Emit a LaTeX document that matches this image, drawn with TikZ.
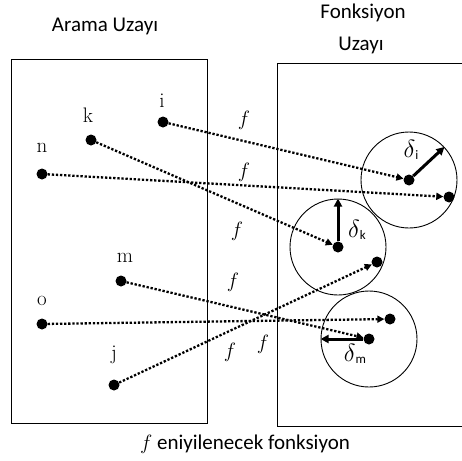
\documentclass[tikz,border=0pt]{standalone}
\usepackage{fontspec}
\newfontfamily\calfont{Carlito}
\usetikzlibrary{arrows.meta}
\begin{document}
\begin{tikzpicture}[x=1pt,y=-1pt,
 pt/.style={circle,fill=black,inner sep=0pt,minimum size=11pt},
 lbl/.style={font=\fontsize{21}{24}\selectfont,anchor=base,inner sep=0pt},
 flbl/.style={font=\fontsize{22}{24}\selectfont,inner sep=0pt},
 dlbl/.style={font=\fontsize{24}{26}\selectfont,inner sep=0pt},
 map/.style={line width=2.3pt,dash pattern=on 2.3pt off 1.8pt,-{Triangle[length=7pt,width=7pt]}},
 ttl/.style={font=\calfont\fontsize{21}{24}\selectfont,anchor=base,inner sep=0pt},
 zone/.style={circle,draw,line width=0.9pt,minimum size=96pt,inner sep=0pt},
 rad/.style={line width=3pt,-{Triangle[length=8pt,width=8pt]}},
 box/.style={draw,line width=1pt},
]
\useasboundingbox (0,0) rectangle (462,460);
% titles
\node[ttl] (t1) at (105,32) {Arama Uzayı};
\node[ttl] (t2) at (363,19) {Fonksiyon};
\node[ttl] (t3) at (361,50) {Uzayı};
\node[ttl] (t4) at (245,449) {$f$ eniyilenecek fonksiyon};
% boxes
\draw[box] (11,59) rectangle (207,423);
\draw[box] (462,63) -| (277,426) -- (462,426);
% source points
\node[pt] (i) at (163,122) {};
\node[pt] (k) at (91,140) {};
\node[pt] (n) at (42,174) {};
\node[pt] (m) at (121,281) {};
\node[pt] (o) at (42,324) {};
\node[pt] (j) at (114,385) {};
\node[lbl] (li) at (162,107) {i};
\node[lbl] (lk) at (88,122) {k};
\node[lbl] (ln) at (42,152) {n};
\node[lbl] (lm) at (125,262) {m};
\node[lbl] (lo) at (42,305) {o};
\node[lbl] (lj) at (114,359) {j};
% target points
\node[pt] (i2) at (409,180) {};
\node[pt] (n2) at (449,197) {};
\node[pt] (k2) at (338,247) {};
\node[pt] (j2) at (377,262) {};
\node[pt] (o2) at (390,319) {};
\node[pt] (m2) at (369,339) {};
% circles
\node[zone] (ci) at (i2) {};
\node[zone] (ck) at (k2) {};
\node[zone] (cm) at (m2) {};
\draw[rad] (i2) -- (ci.43);
\draw[rad] (k2) -- (ck.90);
\draw[rad] (m2) -- (cm.180);
\node[dlbl] (di) at (411,150) {$\delta$\raisebox{-2pt}{\calfont\fontsize{13}{13}\selectfont i}};
\node[dlbl] (dk) at (357,230) {$\delta$\raisebox{-2pt}{\calfont\fontsize{13}{13}\selectfont k}};
\node[dlbl] (dm) at (355,354) {$\delta$\raisebox{-2pt}{\calfont\fontsize{13}{13}\selectfont m}};
% mappings
\draw[map] (i) -- (i2);
\draw[map] (n) -- (n2);
\draw[map] (k) -- (k2);
\draw[map] (m) -- (m2);
\draw[map] (o) -- (o2);
\draw[map] (j) -- (j2);
% f labels
\node[flbl] (f1) at (244,120) {$f$};
\node[flbl] (f2) at (244,172) {$f$};
\node[flbl] (f3) at (237,231) {$f$};
\node[flbl] (f4) at (233,282) {$f$};
\node[flbl] (f5) at (230,352) {$f$};
\node[flbl] (f6) at (263,344) {$f$};
\end{tikzpicture}
\end{document}
